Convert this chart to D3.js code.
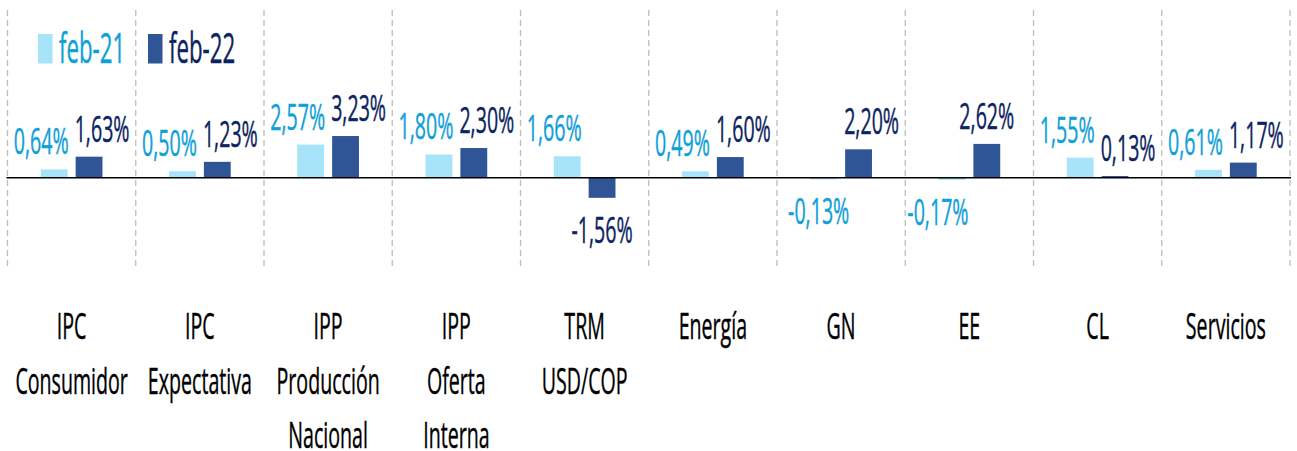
<!DOCTYPE html>
<html>
<head>
<meta charset="utf-8">
<script src="https://cdn.jsdelivr.net/npm/d3@7"></script>
<style>
  html, body { margin: 0; padding: 0; background: #ffffff; }
  svg { display: block; }
  text { font-family: "Open Sans", "Liberation Sans", sans-serif; }
</style>
</head>
<body>
<svg id="chart" width="1297" height="451"></svg>
<script>
// ---------- data ----------
const categories = [
  ["IPC", "Consumidor"],
  ["IPC", "Expectativa"],
  ["IPP", "Producción", "Nacional"],
  ["IPP", "Oferta", "Interna"],
  ["TRM", "USD/COP"],
  ["Energía"],
  ["GN"],
  ["EE"],
  ["CL"],
  ["Servicios"]
];
const seriesNames = ["feb-21", "feb-22"];
const feb21 = [0.64, 0.50, 2.57, 1.80, 1.66, 0.49, -0.13, -0.17, 1.55, 0.61];
const feb22 = [1.63, 1.23, 3.23, 2.30, -1.56, 1.60, 2.20, 2.62, 0.13, 1.17];
const yDomain = [-7, 13];

// ---------- style ----------
const barColors = ["#A7E4FA", "#2F5597"];
const textColors = ["#0FA0D8", "#0C2461"];
const SX = 0.53;          // horizontal compression of all text
const labelSize = 37;
const legendSize = 42;

const svg = d3.select("#chart");
const pLeft = 7.5, pRight = 1290, pTop = 10, pBottom = 268;

const catIdx = d3.range(categories.length);
const x0 = d3.scaleBand().domain(catIdx).range([pLeft, pRight]).paddingInner(0).paddingOuter(0);
const bw0 = x0.bandwidth();
const groupHalf = 30.85;
const x1 = d3.scaleBand().domain(seriesNames)
  .range([bw0 / 2 - groupHalf, bw0 / 2 + groupHalf]).paddingInner(0.23).paddingOuter(0);
const y = d3.scaleLinear().domain(yDomain).range([pBottom, pTop]);

// dashed vertical separators
const seps = d3.range(categories.length + 1).map(i => i < categories.length ? x0(i) : x0(categories.length - 1) + bw0);
svg.append("g").selectAll("line").data(seps).join("line")
  .attr("x1", d => d).attr("x2", d => d)
  .attr("y1", pTop).attr("y2", pBottom)
  .attr("stroke", "#BDBDBD").attr("stroke-width", 1.3)
  .attr("stroke-dasharray", "6,4");

// bars
const rows = catIdx.map(i => seriesNames.map((s, k) => ({ i, s, k, v: k === 0 ? feb21[i] : feb22[i] })));
const flat = rows.flat();

svg.append("g").selectAll("rect").data(flat).join("rect")
  .attr("x", d => x0(d.i) + x1(d.s))
  .attr("width", x1.bandwidth())
  .attr("y", d => Math.min(y(d.v), y(0)))
  .attr("height", d => Math.abs(y(d.v) - y(0)))
  .attr("fill", d => barColors[d.k]);

// zero line
svg.append("line")
  .attr("x1", pLeft - 1).attr("x2", pRight + 1)
  .attr("y1", y(0)).attr("y2", y(0))
  .attr("stroke", "#000").attr("stroke-width", 1.6);

// helper for compressed text
function ctext(g, x, yy, str, size, color, anchor) {
  return g.append("text")
    .attr("transform", `translate(${x},${yy}) scale(${SX},1)`)
    .attr("text-anchor", anchor)
    .attr("font-size", size)
    .attr("fill", color)
    .attr("stroke", color)
    .attr("stroke-width", 0.45)
    .text(str);
}

const fmt = v => d3.format(".2f")(v).replace(".", ",").replace("−", "-") + "%";

// data labels
const lg = svg.append("g");
flat.forEach(d => {
  const bx = x0(d.i) + x1(d.s);
  const bwid = x1.bandwidth();
  let xx, anchor, yy;
  if (d.v >= 0) {
    yy = y(d.v) - 15;
    const otherNeg = (d.k === 1 ? feb21[d.i] : feb22[d.i]) < 0;
    if (d.k === 0) { xx = bx + bwid + 1; anchor = "end"; }
    else if (otherNeg && d.v > 2.5) { xx = bx + bwid / 2; anchor = "middle"; }
    else { xx = bx - 1; anchor = "start"; }
  } else {
    yy = y(d.v) + 45;
    xx = bx + bwid / 2 - (d.v > -0.15 ? 5 : (d.v > -1 ? 14 : 0));
    anchor = "middle";
  }
  ctext(lg, xx, yy, fmt(d.v), labelSize, textColors[d.k], anchor);
});

// category labels
const cg = svg.append("g");
categories.forEach((lines, i) => {
  lines.forEach((ln, j) => {
    ctext(cg, x0(i) + bw0 / 2, 339 + j * 54.5, ln, labelSize, "#000", "middle");
  });
});

// legend
const legX = [38, 148];
const leg = svg.append("g");
seriesNames.forEach((s, k) => {
  leg.append("rect").attr("x", legX[k]).attr("y", 34).attr("width", 14.5).attr("height", 29.5)
    .attr("fill", barColors[k]);
  ctext(leg, legX[k] + 21, 63, s, legendSize, textColors[k], "start");
});
</script>
</body>
</html>
